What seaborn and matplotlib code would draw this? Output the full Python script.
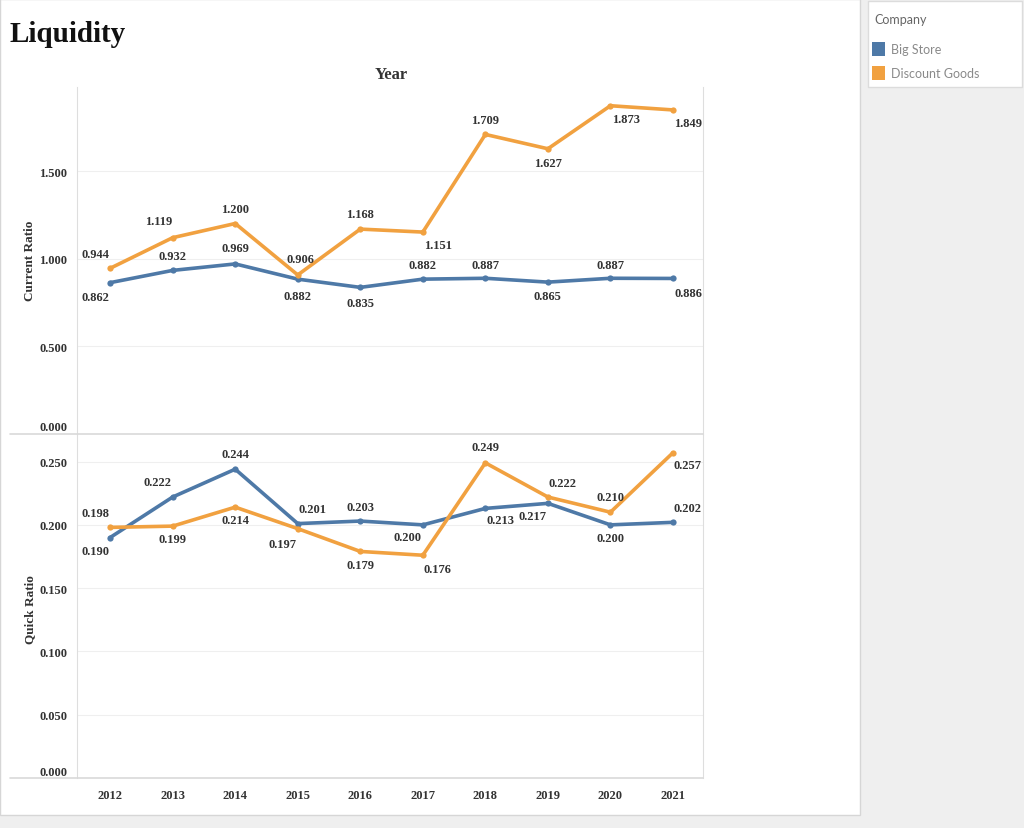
import pandas as pd
import matplotlib
matplotlib.use("Agg")
import matplotlib.pyplot as plt
import seaborn as sns
from matplotlib.patches import Rectangle
from matplotlib.lines import Line2D

# -----------------------
# Data
# -----------------------
years = [2012, 2013, 2014, 2015, 2016, 2017, 2018, 2019, 2020, 2021]
companies = ["Big Store", "Discount Goods"]

current_big = [0.862, 0.932, 0.969, 0.882, 0.835, 0.882, 0.887, 0.865, 0.887, 0.886]
current_disc = [0.944, 1.119, 1.200, 0.906, 1.168, 1.151, 1.709, 1.627, 1.873, 1.849]
quick_big = [0.190, 0.222, 0.244, 0.201, 0.203, 0.200, 0.213, 0.217, 0.200, 0.202]
quick_disc = [0.198, 0.199, 0.214, 0.197, 0.179, 0.176, 0.249, 0.222, 0.210, 0.257]

current_ticks = [0.0, 0.5, 1.0, 1.5]
quick_ticks = [0.0, 0.05, 0.10, 0.15, 0.20, 0.25]

colors = {"Big Store": "#4e79a7", "Discount Goods": "#f1a140"}

df = pd.DataFrame({
    "Year": years * 2,
    "Company": ["Big Store"] * len(years) + ["Discount Goods"] * len(years),
    "Current Ratio": current_big + current_disc,
    "Quick Ratio": quick_big + quick_disc,
})

# label offsets (pixels) for each point
off_current = {
    "Big Store": [(-15, -14), (0, 14), (0, 16), (0, -17), (0, -16),
                  (0, 14), (0, 13), (0, -14), (0, 13), (15, -15)],
    "Discount Goods": [(-15, 14), (-14, 17), (0, 15), (3, 16), (0, 15),
                       (15, -13), (0, 14), (0, -14), (16, -13), (15, -13)],
}
off_quick = {
    "Big Store": [(-15, -13), (-15, 15), (0, 15), (15, 15), (0, 14),
                  (-15, -12), (15, -12), (-15, -13), (0, -13), (15, 14)],
    "Discount Goods": [(-15, 14), (0, -13), (0, -13), (-15, -15), (0, -14),
                       (15, -14), (0, 16), (15, 14), (0, 15), (15, -12)],
}

# -----------------------
# Figure
# -----------------------
sns.set_style("white")
plt.rcParams["font.family"] = ["Liberation Serif", "DejaVu Serif"]

W, H = 1024, 829
fig = plt.figure(figsize=(W / 100, H / 100), dpi=100, facecolor="#efefef")


def fx(x):
    return x / W


def fy(y):
    return 1 - y / H


# white card (behind the axes)
fig.patches.append(Rectangle((0, fy(816)), fx(860), 1 - fy(816), transform=fig.transFigure,
                             facecolor="white", edgecolor="#d6d6d6", lw=1, zorder=-5))

ax1 = fig.add_axes([fx(77), fy(434.5), fx(703 - 77), (434.5 - 88) / H])
ax2 = fig.add_axes([fx(77), fy(779), fx(703 - 77), (779 - 436) / H])

panels = [
    (ax1, "Current Ratio", current_ticks, (0, 1.98), off_current),
    (ax2, "Quick Ratio", quick_ticks, (0, 0.271), off_quick),
]

for ax, col, ticks, ylim, offs in panels:
    ax.set_facecolor("none")
    sns.lineplot(data=df, x="Year", y=col, hue="Company", palette=colors,
                 marker="o", markersize=4.5, markeredgewidth=0, linewidth=2.6,
                 legend=False, ax=ax)
    for comp in companies:
        sub = df[df["Company"] == comp]
        for i, (yr, v) in enumerate(zip(sub["Year"], sub[col])):
            dx, dy = offs[comp][i]
            ax.annotate(f"{v:.3f}", (yr, v), xytext=(dx, dy), textcoords="offset pixels",
                        ha="center", va="center", fontsize=9, fontweight="bold",
                        color="#333333")
    ax.set_xlim(2011.47, 2021.48)
    ax.set_ylim(*ylim)
    ax.set_yticks(ticks)
    ax.set_yticklabels([f"{t:.3f}" for t in ticks], fontsize=9, fontweight="bold", color="#333333")
    ax.get_yticklabels()[0].set_va("bottom")
    ax.tick_params(axis="both", length=0, pad=7)
    ax.grid(axis="y", color="#efefef", lw=0.8)
    ax.set_axisbelow(True)
    ax.set_xlabel("")
    ax.set_ylabel("")
    for s in ["top", "bottom"]:
        ax.spines[s].set_visible(False)
    ax.spines["left"].set_color("#dedede")
    ax.spines["right"].set_color("#dedede")

ax1.set_xticks(years)
ax1.set_xticklabels([])
ax2.set_xticks(years)
ax2.set_xticklabels([str(y) for y in years], fontsize=9, fontweight="bold", color="#333333")
ax2.tick_params(axis="x", pad=8)

# separator lines
fig.lines.append(Line2D([fx(10), fx(703)], [fy(434.5), fy(434.5)], transform=fig.transFigure,
                        color="#d9d9d9", lw=1.2))
fig.lines.append(Line2D([fx(10), fx(703)], [fy(779), fy(779)], transform=fig.transFigure,
                        color="#d9d9d9", lw=1.2))

# titles
fig.text(fx(10), fy(34), "Liquidity", fontsize=21, fontweight="bold", ha="left", va="center",
         color="#111111")
fig.text(fx(391), fy(75), "Year", fontsize=12, fontweight="bold", ha="center", va="center",
         color="#333333")
fig.text(fx(30), fy(261), "Current Ratio", fontsize=9.5, fontweight="bold", rotation=90,
         ha="center", va="center", color="#333333")
fig.text(fx(30), fy(610), "Quick Ratio", fontsize=9.5, fontweight="bold", rotation=90,
         ha="center", va="center", color="#333333")

# legend card
fig.patches.append(Rectangle((fx(868), fy(88)), fx(1022 - 868), (88 - 2) / H,
                             transform=fig.transFigure, facecolor="white",
                             edgecolor="#dcdcdc", lw=1, zorder=-5))
fig.text(fx(874), fy(20), "Company", fontsize=9, color="#666666", family="Lato",
         ha="left", va="center")
for i, comp in enumerate(companies):
    yc = 50 + 24 * i
    fig.patches.append(Rectangle((fx(872), fy(yc + 7)), fx(13), 14 / H,
                                 transform=fig.transFigure, facecolor=colors[comp], lw=0))
    fig.text(fx(891), fy(yc), comp, fontsize=9, color="#8a8a8a", family="Lato",
             ha="left", va="center")

fig.savefig("out.png", dpi=100, facecolor=fig.get_facecolor())
